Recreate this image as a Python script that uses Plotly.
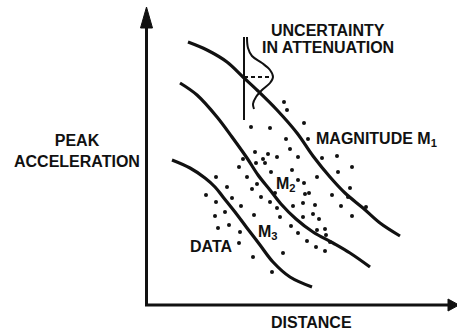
import plotly.graph_objects as go

# ---- data (image-pixel coordinate space: x right, y down) ----
m1_x = [188, 207, 227, 243, 258, 277, 297, 313, 330, 345, 363, 380, 400]
m1_y = [42, 50, 62, 77, 91, 110, 133, 156, 177, 193, 208, 223, 236]

m2_x = [180, 197, 217, 232, 247, 258, 270, 281, 296, 313, 333, 350, 370]
m2_y = [83, 95, 117, 137, 158, 175, 190, 204, 219, 232, 243, 253, 267]

m3_x = [172, 190, 205, 215, 223, 235, 247, 260, 273, 290, 312]
m3_y = [160, 168, 178, 187, 197, 212, 228, 245, 262, 277, 287]

bell_x = [247, 248, 252, 262, 270, 273, 270, 262, 256, 253, 254]
bell_y = [37, 48, 56, 63, 70, 77, 83, 90, 97, 104, 109]

bar_x = [244, 244]
bar_y = [37, 120]

mean_x = [244, 272]
mean_y = [77, 77]

data_x = [284, 287, 304, 251, 270, 286, 308, 290, 255, 268, 263, 277, 298, 322, 337,
          243, 256, 265, 239, 292, 271, 338, 352, 317, 247, 298, 304, 350, 252, 261,
          309, 305, 332, 348, 216, 227, 257, 206, 232, 216, 241, 270, 277, 293, 303,
          315, 225, 215, 254, 280, 303, 313, 319, 229, 218, 240, 291, 298, 317, 325,
          326, 239, 307, 316, 325, 283, 253, 272, 341, 352, 366, 330, 275]
data_y = [102, 110, 123, 127, 128, 139, 139, 149, 152, 154, 159, 157, 157, 158, 156,
          159, 163, 163, 167, 170, 172, 172, 167, 177, 177, 180, 183, 188, 189, 197,
          193, 194, 195, 197, 177, 187, 184, 195, 198, 202, 206, 202, 208, 206, 203,
          205, 212, 216, 215, 217, 217, 214, 219, 225, 228, 232, 226, 233, 230, 229,
          235, 243, 241, 247, 251, 253, 257, 272, 206, 216, 207, 242, 193]

x_axis_label = "DISTANCE"
y_axis_label = "PEAK<br>ACCELERATION"
title_lines = ["UNCERTAINTY", "IN ATTENUATION"]
curve_labels = ["MAGNITUDE M<sub>1</sub>", "M<sub>2</sub>", "M<sub>3</sub>", "DATA"]

INK = "#111111"
FONT = dict(family="Liberation Sans", size=16, color=INK, weight="bold")

fig = go.Figure()

for cx, cy in [(m1_x, m1_y), (m2_x, m2_y), (m3_x, m3_y)]:
    fig.add_trace(go.Scatter(x=cx, y=cy, mode="lines",
                             line=dict(color=INK, width=3.2, shape="spline", smoothing=1.0),
                             hoverinfo="skip"))

fig.add_trace(go.Scatter(x=bar_x, y=bar_y, mode="lines",
                         line=dict(color=INK, width=2), hoverinfo="skip"))
fig.add_trace(go.Scatter(x=bell_x, y=bell_y, mode="lines",
                         line=dict(color=INK, width=2, shape="spline", smoothing=1.0),
                         hoverinfo="skip"))
fig.add_trace(go.Scatter(x=mean_x, y=mean_y, mode="lines",
                         line=dict(color=INK, width=2, dash="4px,3px"), hoverinfo="skip"))

fig.add_trace(go.Scatter(x=data_x, y=data_y, mode="markers",
                         marker=dict(color=INK, size=4), hoverinfo="skip"))

# axes frame with arrowheads
shapes = [
    dict(type="line", xref="x", yref="y", x0=146.5, y0=305, x1=146.5, y1=24,
         line=dict(color=INK, width=3)),
    dict(type="path", xref="x", yref="y", path="M 146.5 7 L 140.5 28 L 152.5 28 Z",
         fillcolor=INK, line=dict(color=INK, width=1)),
    dict(type="line", xref="x", yref="y", x0=145, y0=305, x1=450, y1=305,
         line=dict(color=INK, width=3)),
    dict(type="path", xref="x", yref="y", path="M 459 305 L 448 299 L 448 311 Z",
         fillcolor=INK, line=dict(color=INK, width=1)),
]

annotations = [
    dict(x=328, y=30, text=title_lines[0]),
    dict(x=328, y=47, text=title_lines[1]),
    dict(x=314, y=139, text=curve_labels[0], xanchor="left"),
    dict(x=274, y=184, text=curve_labels[1], xanchor="left"),
    dict(x=256, y=232, text=curve_labels[2], xanchor="left"),
    dict(x=211, y=246, text=curve_labels[3]),
    dict(x=311, y=322, text=x_axis_label),
    dict(x=77, y=151, text=y_axis_label, align="center"),
]
for a in annotations:
    a.setdefault("xanchor", "center")
    a.update(xref="x", yref="y", yanchor="middle", showarrow=False, font=FONT)

fig.update_layout(
    width=457, height=333,
    margin=dict(l=0, r=0, t=0, b=0),
    paper_bgcolor="white", plot_bgcolor="white",
    showlegend=False,
    xaxis=dict(range=[0, 457], visible=False, fixedrange=True),
    yaxis=dict(range=[333, 0], visible=False, fixedrange=True),
    shapes=shapes,
    annotations=annotations,
)

fig.write_html("out.html", config={"displayModeBar": False},
               post_script="document.body.style.margin='0';")
